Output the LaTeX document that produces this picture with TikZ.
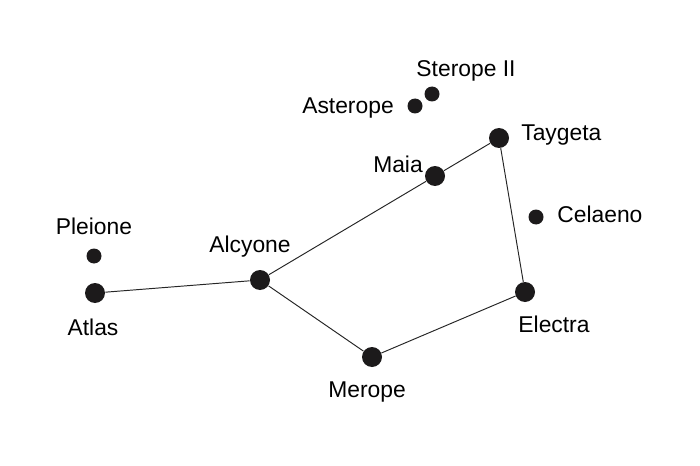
\documentclass[tikz,border=0pt]{standalone}
\usepackage{fontspec}
\setmainfont{Liberation Sans}
\usepackage{xcolor}
\usepackage{tikz}
\usetikzlibrary{positioning, calc}

\definecolor{stardark}{HTML}{1C1A1B}

\begin{document}
\begin{tikzpicture}[
    x=0.02cm, y=-0.02cm,
    bigstar/.style={circle, fill=stardark, inner sep=0pt, minimum size=20*0.02cm},
    smallstar/.style={circle, fill=stardark, inner sep=0pt, minimum size=15*0.02cm},
    starname/.style={font=\fontsize{13}{15}\selectfont, text=black, inner sep=0pt, anchor=base},
    link/.style={draw=black!85, line width=0.55pt}
]

% Frame
\useasboundingbox (0,0) rectangle (700,466);

% Stars
\node[bigstar] (atlas) at (95, 293) {};
\node[smallstar] (pleione) at (94, 256) {};
\node[bigstar] (alcyone) at (260, 280) {};
\node[bigstar] (maia) at (435, 176) {};
\node[bigstar] (taygeta) at (499, 138) {};
\node[bigstar] (electra) at (525, 292) {};
\node[bigstar] (merope) at (372, 357) {};
\node[smallstar] (celaeno) at (536, 217) {};
\node[smallstar] (asterope) at (415, 106) {};
\node[smallstar] (sterope) at (432, 94) {};

% Lines of the asterism
\draw[link] (atlas) -- (alcyone);
\draw[link] (alcyone) -- (maia);
\draw[link] (maia) -- (taygeta);
\draw[link] (taygeta) -- (electra);
\draw[link] (electra) -- (merope);
\draw[link] (merope) -- (alcyone);

% Names
\node[starname] (lpleione) at (94, 235) {Pleione};
\node[starname] (latlas) at (93, 335) {Atlas};
\node[starname] (lalcyone) at (250, 252) {Alcyone};
\node[starname] (lsterope) at (466, 77) {Sterope II};
\node[starname] (lasterope) at (348, 113) {Asterope};
\node[starname] (lmaia) at (398, 173) {Maia};
\node[starname, anchor=base west] (ltaygeta) at (521, 141) {Taygeta};
\node[starname, anchor=base west] (lcelaeno) at (557, 222) {Celaeno};
\node[starname] (lelectra) at (554, 332) {Electra};
\node[starname] (lmerope) at (367, 397) {Merope};

\end{tikzpicture}
\end{document}
